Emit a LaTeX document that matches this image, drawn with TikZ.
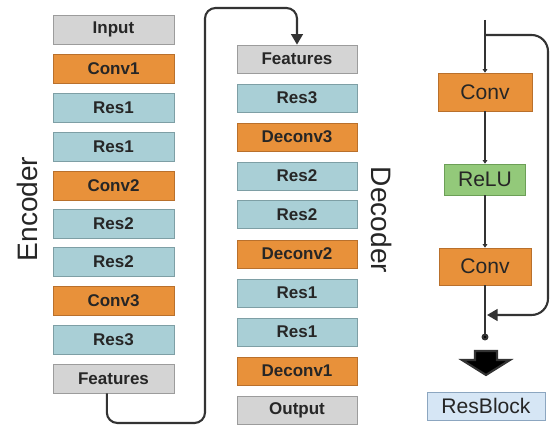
\documentclass[tikz,border=0pt]{standalone}
\usepackage{fontspec}
\setmainfont{Liberation Sans}
\usetikzlibrary{arrows.meta}
\definecolor{convor}{HTML}{E8913A}
\definecolor{convbd}{HTML}{B9702C}
\definecolor{resbl}{HTML}{A9CFD6}
\definecolor{resbd}{HTML}{7E9FA5}
\definecolor{iogray}{HTML}{D4D4D4}
\definecolor{iobd}{HTML}{9C9C9C}
\definecolor{relugr}{HTML}{93C97A}
\definecolor{relubd}{HTML}{6C9F57}
\definecolor{blockbl}{HTML}{D6E6F5}
\definecolor{blockbd}{HTML}{8CA6C0}
\definecolor{wire}{HTML}{333333}

\begin{document}
\begin{tikzpicture}[x=0.03cm, y=-0.03cm]
            \tikzstyle{layer} = [draw, line width=0.6pt, inner sep=0pt, font=\fontsize{14.5}{16}\selectfont\bfseries, text=black!85]
            \tikzstyle{enc} = [layer, minimum width=3.63cm, minimum height=0.87cm]
            \tikzstyle{dec} = [layer, minimum width=3.6cm, minimum height=0.84cm]
            \tikzstyle{conv} = [fill=convor, draw=convbd]
            \tikzstyle{res} = [fill=resbl, draw=resbd]
            \tikzstyle{io} = [fill=iogray, draw=iobd]
            \tikzstyle{big} = [draw, line width=0.6pt, inner sep=0pt, font=\fontsize{18}{20}\selectfont, text=black!85]
            \tikzstyle{wire} = [draw=wire, line width=1.8pt]
            \useasboundingbox (0,0) rectangle (550,425);
            % encoder column
            \node[enc, io] (input) at (113.5, 29.5) {Input};
            \node[enc, conv] (econva) at (113.5, 68.5) {Conv1};
            \node[enc, res] (eresa) at (113.5, 107.5) {Res1};
            \node[enc, res] (eresb) at (113.5, 146.5) {Res1};
            \node[enc, conv] (econvb) at (113.5, 185.5) {Conv2};
            \node[enc, res] (eresc) at (113.5, 223.5) {Res2};
            \node[enc, res] (eresd) at (113.5, 262) {Res2};
            \node[enc, conv] (econvc) at (113.5, 300.5) {Conv3};
            \node[enc, res] (erese) at (113.5, 339.5) {Res3};
            \node[enc, io] (efeat) at (113.5, 378.5) {Features};
            \node[rotate=90, font=\fontsize{24}{26}\selectfont, text=black!85] (enclabel) at (27, 209) {Encoder};
            % decoder column
            \node[dec, io] (dfeat) at (297, 59) {Features};
            \node[dec, res] (dresa) at (297, 98) {Res3};
            \node[dec, conv] (dconva) at (297, 137) {Deconv3};
            \node[dec, res] (dresb) at (297, 176) {Res2};
            \node[dec, res] (dresc) at (297, 214.5) {Res2};
            \node[dec, conv] (dconvb) at (297, 254) {Deconv2};
            \node[dec, res] (dresd) at (297, 293) {Res1};
            \node[dec, res] (drese) at (297, 332) {Res1};
            \node[dec, conv] (dconvc) at (297, 371) {Deconv1};
            \node[dec, io] (output) at (297, 410) {Output};
            \node[rotate=-90, font=\fontsize{24}{26}\selectfont, text=black!85] (declabel) at (382, 220) {Decoder};
            % link between the two columns
            \coordinate (lowturn) at (205, 423);
            \coordinate (highturn) at (205, 8);
            \draw[wire, rounded corners=9pt, -{Triangle[length=9pt, width=10pt]}] ([xshift=-0.2cm]efeat.south) |- (lowturn) -- (highturn) -| (dfeat.north);
            % residual block
            \node[big, fill=convor, draw=convbd, minimum width=2.82cm, minimum height=1.14cm] (rconva) at (485, 92) {Conv};
            \node[big, fill=relugr, draw=relubd, minimum width=2.43cm, minimum height=0.93cm] (relu) at (485, 179.5) {ReLU};
            \node[big, fill=convor, draw=convbd, minimum width=2.76cm, minimum height=1.11cm] (rconvb) at (485, 266.5) {Conv};
            \coordinate (rtop) at (485, 20);
            \coordinate (rbot) at (485, 337);
            \coordinate (skipout) at (485, 35);
            \coordinate (skipin) at (487, 315);
            \draw[wire, -{Triangle[length=3pt, width=4pt]}] (rtop) -- (rconva.north);
            \draw[wire, -{Triangle[length=3pt, width=4pt]}] (rconva.south) -- (relu.north);
            \draw[wire, -{Triangle[length=3pt, width=4pt]}] (relu.south) -- (rconvb.north);
            \draw[wire] (rconvb.south) -- (rbot);
            \fill[wire] (rbot) circle[radius=2pt];
            \draw[wire, rounded corners=14pt, -{Triangle[length=9pt, width=10pt]}] (skipout) -- (548, 35) -- (548, 315) -- (skipin);
            \fill[wire] (475, 351) -- (497, 351) -- (497, 360) -- (510, 360) -- (486, 375) -- (462, 360) -- (475, 360) -- cycle;
            \node[big, fill=blockbl, draw=blockbd, minimum width=3.54cm, minimum height=0.84cm] (resblock) at (486, 406) {ResBlock};
        \end{tikzpicture}
\end{document}
